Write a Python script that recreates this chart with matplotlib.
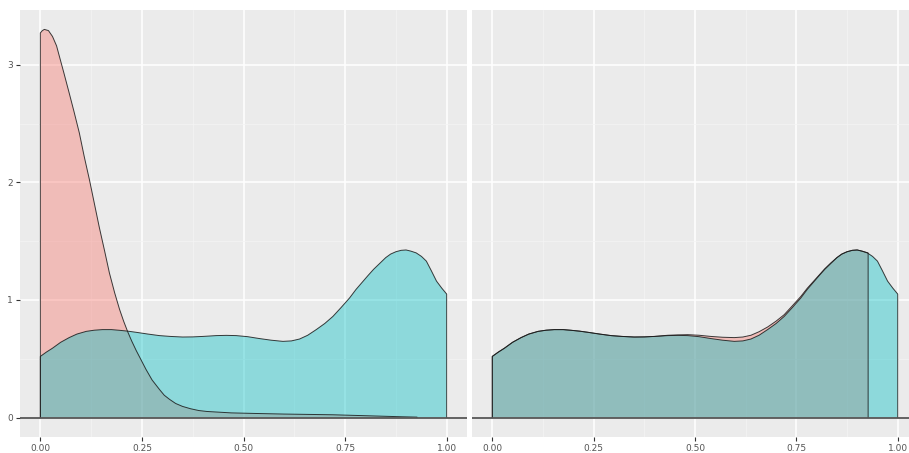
import matplotlib
matplotlib.use("Agg")
import matplotlib.pyplot as plt
from matplotlib.ticker import MultipleLocator

# ---- data ----
red_left_x = [0, 0.005, 0.01, 0.02, 0.03, 0.04, 0.047, 0.058, 0.071, 0.083, 0.096, 0.108,
              0.121, 0.133, 0.145, 0.158, 0.17, 0.183, 0.195, 0.205, 0.215, 0.225, 0.236,
              0.248, 0.26, 0.275, 0.293, 0.305, 0.318, 0.333, 0.35, 0.37, 0.39, 0.41, 0.43,
              0.47, 0.53, 0.60, 0.66, 0.72, 0.78, 0.84, 0.89, 0.927]
red_left_y = [3.27, 3.29, 3.30, 3.29, 3.24, 3.16, 3.07, 2.93, 2.76, 2.60, 2.42, 2.22,
              2.02, 1.82, 1.62, 1.42, 1.23, 1.06, 0.92, 0.82, 0.73, 0.65, 0.57,
              0.49, 0.41, 0.32, 0.24, 0.19, 0.155, 0.12, 0.095, 0.075, 0.06, 0.052, 0.048,
              0.04, 0.035, 0.03, 0.027, 0.024, 0.018, 0.012, 0.007, 0.004]

cyan_x = [0, 0.015, 0.03, 0.05, 0.071, 0.09, 0.113, 0.133, 0.153, 0.175, 0.195, 0.215,
          0.236, 0.265, 0.293, 0.32, 0.35, 0.375, 0.40, 0.433, 0.458, 0.482, 0.51, 0.539,
          0.568, 0.597, 0.618, 0.638, 0.658, 0.679, 0.70, 0.72, 0.74, 0.761, 0.777, 0.794,
          0.807, 0.82, 0.835, 0.85, 0.862, 0.875, 0.888, 0.90, 0.912, 0.925, 0.938, 0.95,
          0.962, 0.975, 0.988, 1.0]
cyan_y = [0.52, 0.557, 0.59, 0.64, 0.68, 0.71, 0.733, 0.743, 0.748, 0.748, 0.742, 0.735,
          0.725, 0.71, 0.697, 0.69, 0.685, 0.686, 0.69, 0.697, 0.699, 0.697, 0.688, 0.672,
          0.658, 0.648, 0.652, 0.668, 0.70, 0.748, 0.80, 0.86, 0.935, 1.017, 1.09, 1.158,
          1.21, 1.26, 1.31, 1.36, 1.39, 1.41, 1.422, 1.425, 1.415, 1.40, 1.37, 1.33,
          1.25, 1.16, 1.10, 1.05]

red_right_x = [0, 0.015, 0.03, 0.05, 0.071, 0.09, 0.113, 0.133, 0.153, 0.175, 0.195, 0.215,
               0.236, 0.265, 0.293, 0.32, 0.35, 0.375, 0.40, 0.433, 0.458, 0.482, 0.51, 0.539,
               0.568, 0.597, 0.618, 0.638, 0.658, 0.679, 0.70, 0.72, 0.74, 0.761, 0.777,
               0.794, 0.807, 0.82, 0.835, 0.85, 0.862, 0.875, 0.888, 0.90, 0.912, 0.927]
red_right_y = [0.52, 0.557, 0.59, 0.64, 0.68, 0.71, 0.733, 0.743, 0.748, 0.748, 0.742, 0.735,
               0.725, 0.71, 0.697, 0.69, 0.685, 0.686, 0.69, 0.70, 0.703, 0.705, 0.70, 0.69,
               0.683, 0.68, 0.685, 0.70, 0.73, 0.77, 0.82, 0.875, 0.95, 1.03, 1.10, 1.165,
               1.215, 1.265, 1.315, 1.36, 1.39, 1.41, 1.422, 1.425, 1.415, 1.40]

x_ticks = [0.0, 0.25, 0.5, 0.75, 1.0]
x_labels = ["0.00", "0.25", "0.50", "0.75", "1.00"]
y_ticks = [0, 1, 2, 3]
y_labels = ["0", "1", "2", "3"]

RED = "#F8766D"
CYAN = "#00BFC4"
BG = "#EBEBEB"

W, H = 909, 453
fig = plt.figure(figsize=(W / 100, H / 100), dpi=100)

ax1 = fig.add_axes([20 / W, (H - 437) / H, 447 / W, 427 / H])
ax2 = fig.add_axes([472 / W, (H - 437) / H, 446 / W, 427 / H])


def density(ax, x, y, color):
    xs = [x[0]] + list(x) + [x[-1]]
    ys = [0] + list(y) + [0]
    ax.fill(xs, ys, facecolor=color, alpha=0.4, edgecolor="none", zorder=2)
    ax.plot(xs, ys, color="#1a1a1a", lw=0.7, alpha=0.85, zorder=3,
            solid_joinstyle="round")


for ax in (ax1, ax2):
    ax.set_facecolor(BG)
    for s in ax.spines.values():
        s.set_visible(False)
    ax.set_xlim(-0.05, 1.05)
    ax.set_ylim(-0.165, 3.465)
    ax.xaxis.set_minor_locator(MultipleLocator(0.125))
    ax.yaxis.set_minor_locator(MultipleLocator(0.5))
    ax.grid(which="major", color="white", lw=1.1, zorder=0)
    ax.grid(which="minor", color="#F4F4F4", lw=0.5, zorder=0)
    ax.set_axisbelow(True)
    ax.set_xticks(x_ticks)
    ax.set_xticklabels(x_labels)
    ax.set_yticks(y_ticks)
    ax.tick_params(which="major", length=3, width=0.8, color="#333333",
                   labelsize=6.5, labelcolor="#555555", pad=2)
    ax.tick_params(which="minor", length=0)

ax1.set_yticklabels(y_labels)
ax2.tick_params(axis="y", which="both", left=False, labelleft=False)

density(ax1, red_left_x, red_left_y, RED)
density(ax1, cyan_x, cyan_y, CYAN)
density(ax2, red_right_x, red_right_y, RED)
density(ax2, cyan_x, cyan_y, CYAN)

for ax in (ax1, ax2):
    ax.axhline(0, color="#555555", lw=1.3, zorder=4)

fig.savefig("out.png", dpi=100, facecolor="white")
